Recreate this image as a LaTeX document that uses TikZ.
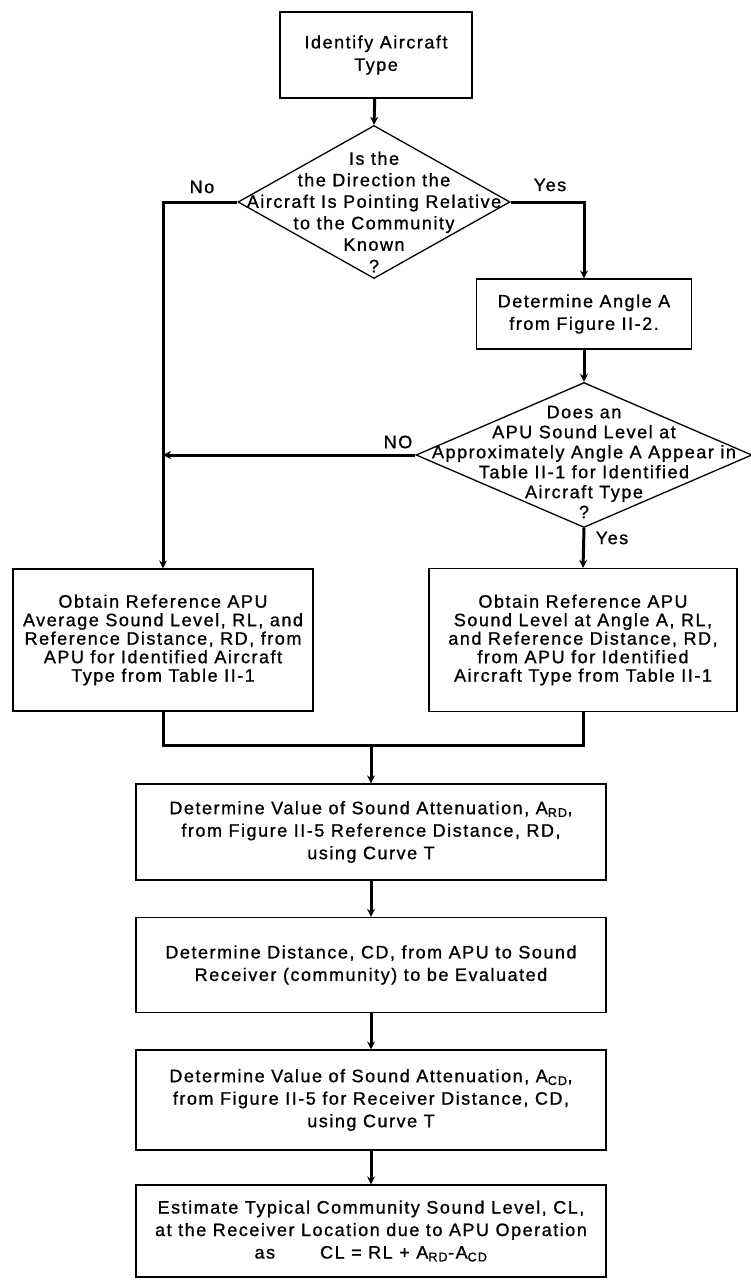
\documentclass[tikz,border=0pt]{standalone}
\usepackage{fontspec}
\setmainfont{Liberation Sans}[LetterSpace=8.5,FakeBold=1]
\usetikzlibrary{shapes.geometric,arrows.meta}

\newcommand{\subtxt}[1]{\textsubscript{#1}}

\tikzset{
  stepbox/.style={draw, line width=1.2pt, align=center, inner sep=0pt,
    font=\fontsize{18}{22.5}\selectfont},
  sidebox/.style={stepbox, font=\fontsize{18}{18.5}\selectfont},
  decision/.style={draw, diamond, line width=1.3pt, inner sep=0pt},
  qtext/.style={align=center, font=\fontsize{18}{21.5}\selectfont},
  lbl/.style={font=\fontsize{18}{20}\selectfont},
  flow/.style={line width=3pt, -{Stealth[length=8pt,width=8pt]}},
  plain/.style={line width=3pt}
}

\begin{document}
\begin{tikzpicture}[x=1pt, y=-1pt]
  \useasboundingbox (0,0) rectangle (751,1284);

  \node[stepbox, minimum width=192, minimum height=86] (ident) at (376,55)
    {Identify Aircraft\\Type};

  \node[decision, minimum width=272, minimum height=153] (known) at (374,202) {};
  \node[qtext] (knowntxt) at (374,212)
    {Is the\\the Direction the\\Aircraft Is Pointing Relative\\to the Community\\Known\\?};

  \node[stepbox, minimum width=215, minimum height=70] (angle) at (584,314)
    {Determine Angle A\\from Figure II-2.};

  \node[decision, minimum width=336, minimum height=145] (table) at (584,455) {};
  \node[qtext, font=\fontsize{18}{20}\selectfont] (tabletxt) at (584,462)
    {Does an\\APU Sound Level at\\Approximately Angle A Appear in\\Table II-1 for Identified\\Aircraft Type\\?};

  \node[sidebox, minimum width=300, minimum height=142] (avgbox) at (163,640)
    {Obtain Reference APU\\Average Sound Level, RL, and\\Reference Distance, RD, from\\APU for Identified Aircraft\\Type from Table II-1};
  \node[sidebox, minimum width=308, minimum height=143] (anglebox) at (583,640)
    {Obtain Reference APU\\Sound Level at Angle A, RL,\\and Reference Distance, RD,\\from APU for Identified\\Aircraft Type from Table II-1};

  \coordinate (join) at (371,745);

  \node[stepbox, minimum width=470, minimum height=96] (attrd) at (371,832)
    {Determine Value of Sound Attenuation, A\subtxt{RD},\\from Figure II-5 Reference Distance, RD,\\using Curve T};
  \node[stepbox, minimum width=470, minimum height=95] (dist) at (371,965)
    {Determine Distance, CD, from APU to Sound\\Receiver (community) to be Evaluated};
  \node[stepbox, minimum width=470, minimum height=100] (attcd) at (371,1100)
    {Determine Value of Sound Attenuation, A\subtxt{CD},\\from Figure II-5 for Receiver Distance, CD,\\using Curve T};
  \node[stepbox, minimum width=470, minimum height=92] (estim) at (371,1231)
    {Estimate Typical Community Sound Level, CL,\\at the Receiver Location due to APU Operation\\as\hspace{45pt}CL = RL + A\subtxt{RD}-A\subtxt{CD}};

  % branch labels
  \node[lbl] (nolbl) at (202,187) {No};
  \node[lbl] (yeslbl) at (550,185) {Yes};
  \node[lbl] (nolbl2) at (398,442) {NO};
  \node[lbl] (yeslbl2) at (612,538) {Yes};

  \coordinate (nocorner) at (avgbox.north |- known.west);

  \draw[flow] (ident) -- (known.north);
  \draw[flow] (known.east) -| (angle.north);
  \draw[flow] (known.west) -- (nocorner) -- (avgbox.north);
  \draw[flow] (angle) -- (table.north);
  \draw[flow] (table.west) -- (table.west -| avgbox.north);
  \draw[flow] (table.south) -- (anglebox.north);
  \draw[plain] (avgbox.south) |- (join);
  \draw[plain] (anglebox.south) |- (join);
  \draw[flow] (join) -- (attrd.north);
  \draw[flow] (attrd) -- (dist);
  \draw[flow] (dist) -- (attcd);
  \draw[flow] (attcd) -- (estim);
\end{tikzpicture}
\end{document}
